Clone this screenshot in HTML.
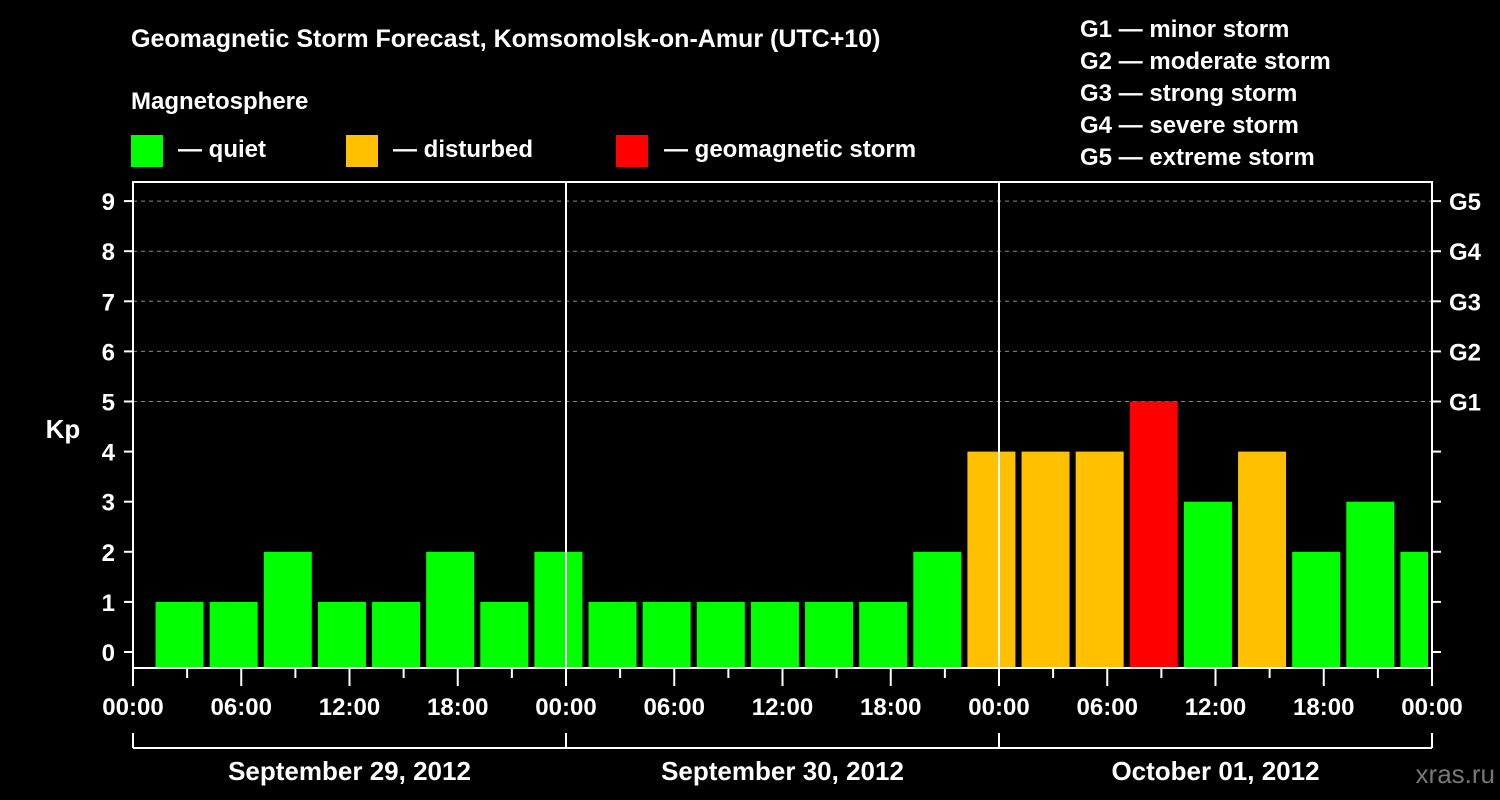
<!DOCTYPE html>
<html><head><meta charset="utf-8"><style>
html,body{margin:0;padding:0;background:#000;}
svg{display:block;font-family:"Liberation Sans",Arial,sans-serif;font-weight:bold;}
</style></head><body>
<svg id="chart" width="1500" height="800" viewBox="0 0 1500 800">
<rect width="1500" height="800" fill="#000"/>
<text x="131" y="47" fill="#fff" font-size="25">Geomagnetic Storm Forecast, Komsomolsk-on-Amur (UTC+10)</text>
<text x="131" y="109" fill="#fff" font-size="24">Magnetosphere</text>
<g><rect x="131" y="135" width="32" height="32" fill="#00ff00"/><text x="178" y="157" fill="#fff" font-size="24">— quiet</text></g>
<g><rect x="346" y="135" width="32" height="32" fill="#ffc000"/><text x="393" y="157" fill="#fff" font-size="24">— disturbed</text></g>
<g><rect x="616" y="135" width="32" height="32" fill="#ff0000"/><text x="664" y="157" fill="#fff" font-size="24">— geomagnetic storm</text></g>
<g fill="#fff" font-size="24">
<text x="1080" y="37">G1 — minor storm</text>
<text x="1080" y="69">G2 — moderate storm</text>
<text x="1080" y="101">G3 — strong storm</text>
<text x="1080" y="133">G4 — severe storm</text>
<text x="1080" y="165">G5 — extreme storm</text>
</g>
<text x="63" y="438" fill="#fff" font-size="26" text-anchor="middle">Kp</text>
<text x="1495" y="783" fill="#777" font-size="26" text-anchor="end" font-weight="normal">xras.ru</text>
<defs><clipPath id="pc"><rect x="133" y="182" width="1295" height="486"/></clipPath></defs>
<g id="grid"></g>
<g id="bars" clip-path="url(#pc)"></g>
<g id="axes"></g>
</svg>
<script>
const kpValues=[1,1,2,1,1,2,1,2, 1,1,1,1,1,1,2,4, 4,4,5,3,4,2,3,2];
const yTicks=[0,1,2,3,4,5,6,7,8,9];
const gLabels=["G1","G2","G3","G4","G5"];
const hourLabels=["00:00","06:00","12:00","18:00"];
const dayLabels=["September 29, 2012","September 30, 2012","October 01, 2012"];
const NS="http://www.w3.org/2000/svg";
const X0=133,X1=1432,PT=182,PB=668;
const dayW=(X1-X0)/dayLabels.length;
const slotW=dayW/8;
function yS(v){return 652-v*50.1;}
function xS(h){return X0+h/24*dayW;}
function mk(tag,attrs,parent,text){const e=document.createElementNS(NS,tag);for(const k in attrs)e.setAttribute(k,attrs[k]);if(text!==undefined)e.textContent=text;parent.appendChild(e);return e;}
const grid=document.getElementById('grid'),bars=document.getElementById('bars'),axes=document.getElementById('axes');
yTicks.forEach(v=>{
  if(v>=5){const l=mk('line',{x1:X0,x2:X1,y1:yS(v),y2:yS(v),stroke:'#888','stroke-dasharray':'4,4','stroke-width':1},grid);
  
  }
  mk('line',{x1:X0-9,x2:X0,y1:yS(v),y2:yS(v),stroke:'#fff','stroke-width':2},axes);
  mk('line',{x1:X1,x2:X1+9,y1:yS(v),y2:yS(v),stroke:'#fff','stroke-width':2},axes);
  const t=mk('text',{x:X0-18,y:yS(v)+9,fill:'#fff','font-size':24,'text-anchor':'end'},axes,String(v));
  
  
});
gLabels.forEach((g,i)=>{
  const t=mk('text',{x:1449,y:yS(5+i)+9,fill:'#fff','font-size':24},axes,g);
  
  
});
kpValues.forEach((v,i)=>{
  const cx=X0+slotW*i+slotW*0.86;
  const col=v>=5?'#ff0000':(v>=4?'#ffc000':'#00ff00');
  const top=yS(v);
  const r=mk('rect',{x:cx-24,y:top,width:48,height:PB-top,fill:col},bars);
  
  
});
mk('rect',{x:X0,y:PT,width:X1-X0,height:PB-PT,fill:'none',stroke:'#fff','stroke-width':2},axes);
for(let d=1;d<dayLabels.length;d++){mk('line',{x1:X0+d*dayW,x2:X0+d*dayW,y1:PT,y2:PB,stroke:'#fff','stroke-width':2},axes);}
for(let s=0;s<=dayLabels.length*8;s++){
  const x=X0+s*slotW,major=s%2===0;
  mk('line',{x1:x,x2:x,y1:PB,y2:PB+(major?18:10),stroke:'#fff','stroke-width':2},axes);
  if(major){const t=mk('text',{x:x,y:715,fill:'#fff','font-size':24,'text-anchor':'middle'},axes,hourLabels[(s/2)%4]);
  
  }
}
mk('line',{x1:X0,x2:X1,y1:748,y2:748,stroke:'#fff','stroke-width':2},axes);
for(let d=0;d<=dayLabels.length;d++){mk('line',{x1:X0+d*dayW,x2:X0+d*dayW,y1:733,y2:748,stroke:'#fff','stroke-width':2},axes);}
dayLabels.forEach((l,d)=>{
  const t=mk('text',{x:X0+(d+0.5)*dayW,y:780,fill:'#fff','font-size':26,'text-anchor':'middle'},axes,l);
  
  
});
</script>
</body></html>
